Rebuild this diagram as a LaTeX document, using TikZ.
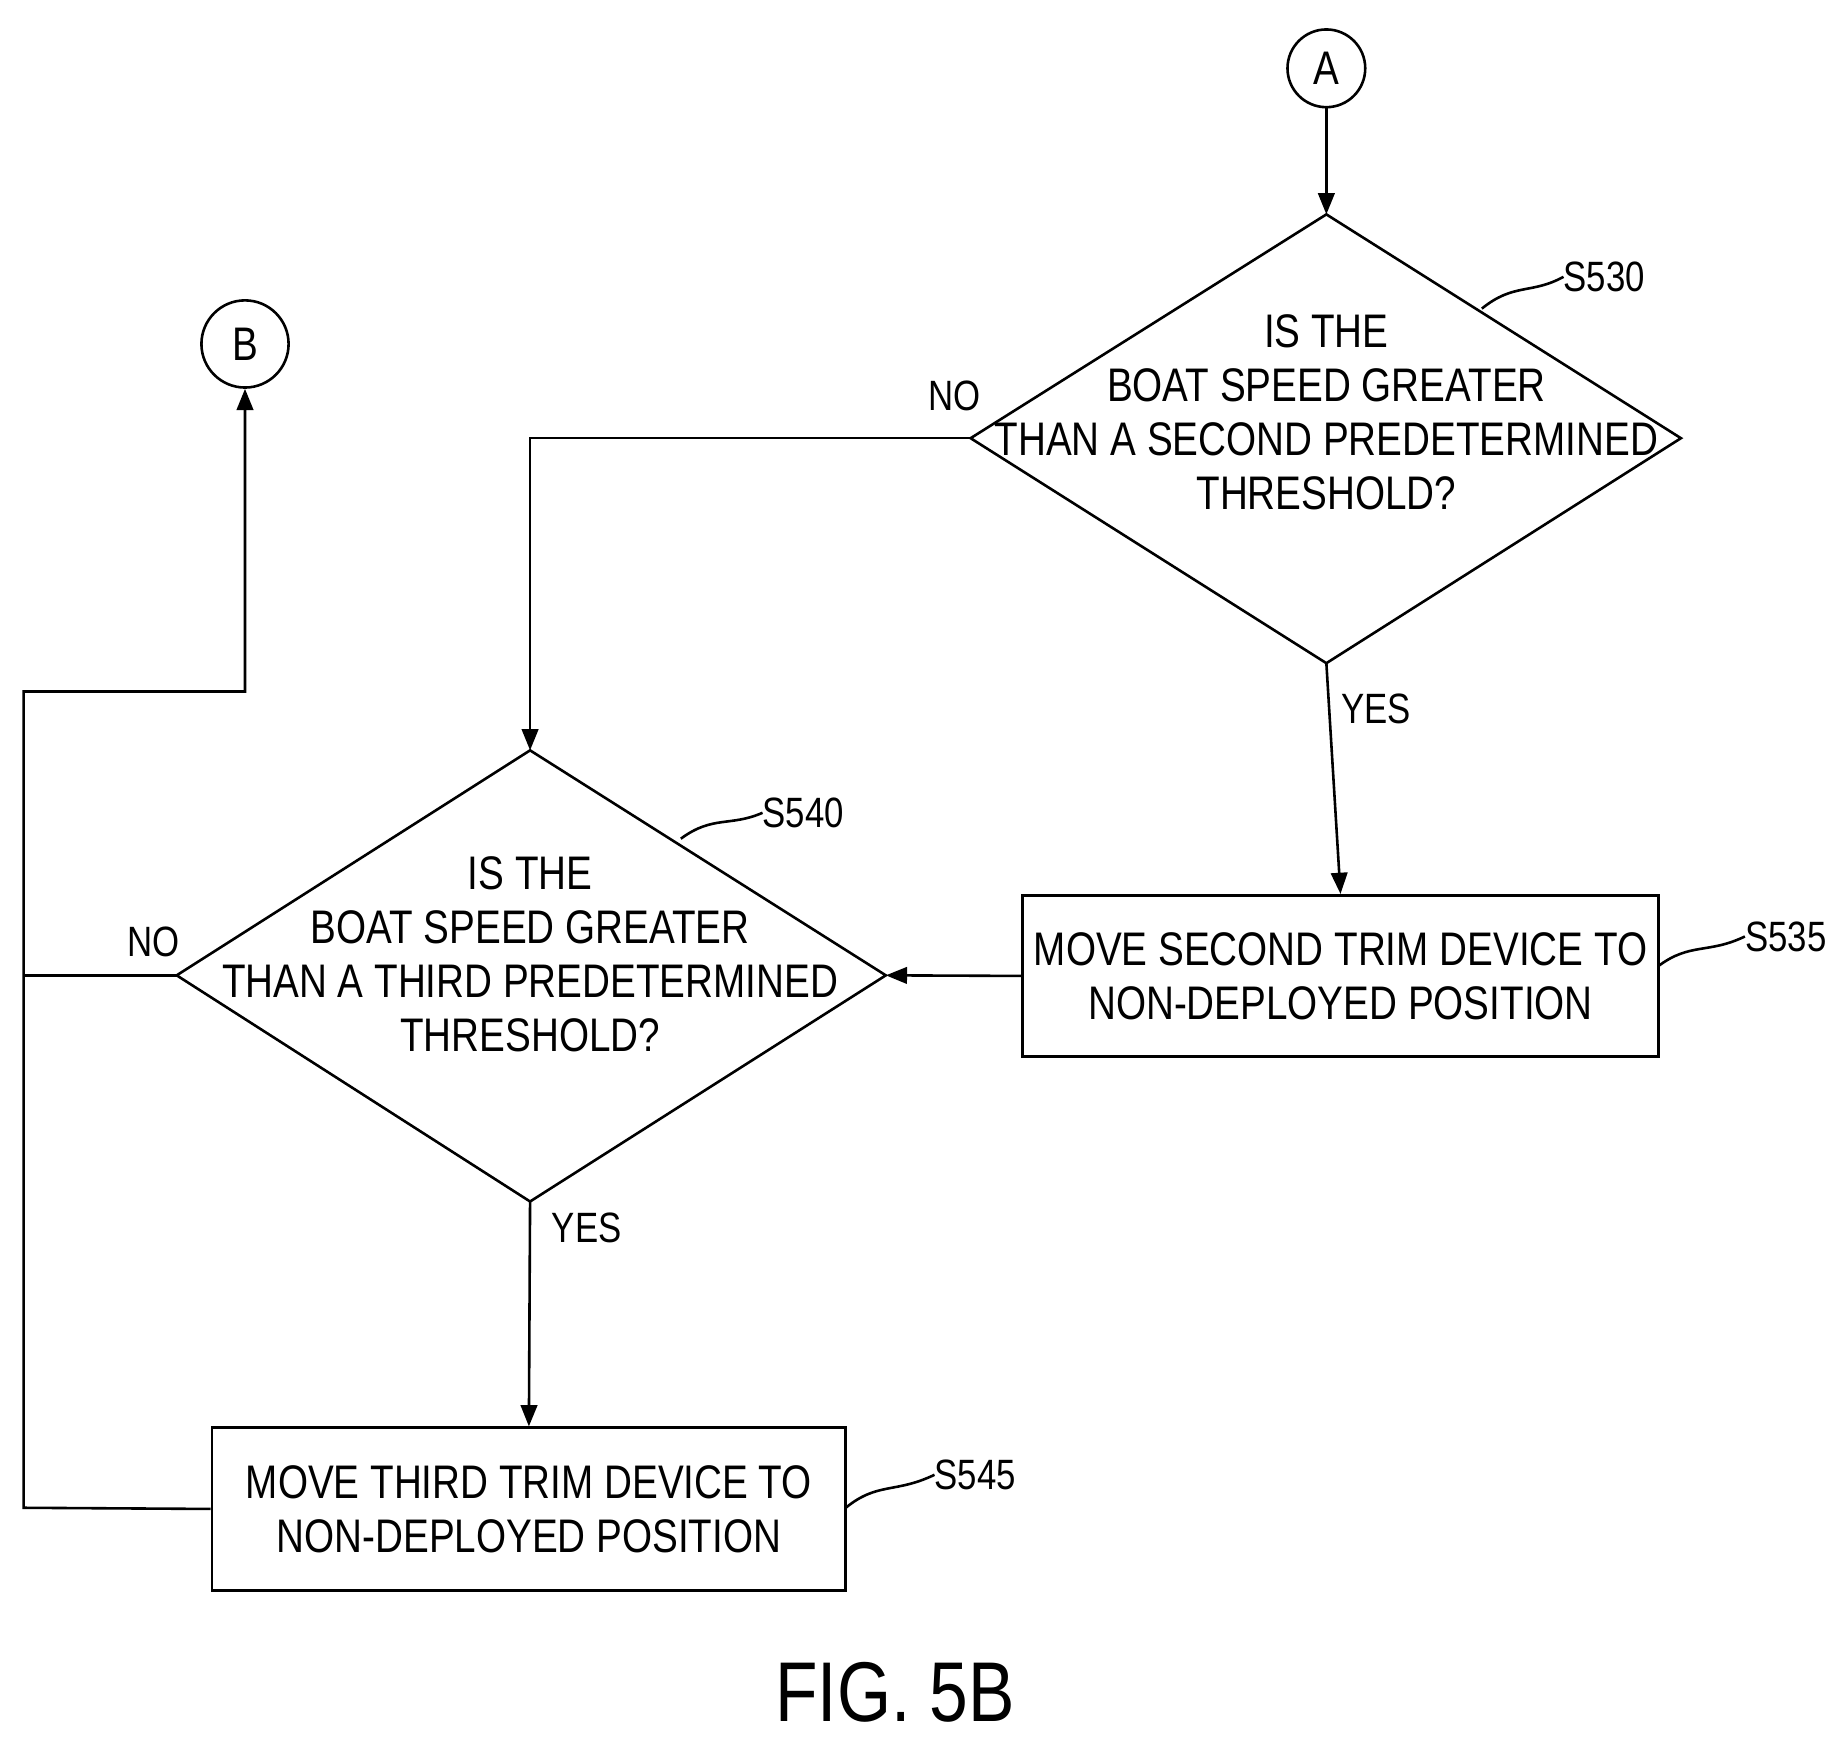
\documentclass[tikz,border=0pt]{standalone}
\usepackage{fontspec}
\setmainfont[FakeStretch=0.82]{Liberation Sans}
\usetikzlibrary{shapes.geometric,arrows.meta}
\begin{document}
\begin{tikzpicture}[x=1pt,y=-1pt,
  every node/.style={font=\fontsize{40}{46}\selectfont, inner sep=0pt},
  ln/.style={line width=2.2pt},
  arr/.style={ln,-{Triangle[length=18pt,width=14pt]}},
  dia/.style={draw,ln,diamond,minimum width=0pt},
  box/.style={draw,ln,align=center},
  circ/.style={draw,ln,circle},
  lbl/.style={font=\fontsize{36}{40}\selectfont}]
\useasboundingbox (0,0) rectangle (1568,1488);
% connectors (circles)
\node[circ,minimum size=66pt] (A) at (1126,58) {A};
\node[circ,minimum size=74pt] (B) at (208,292) {B};
% diamond S530
\coordinate (d1t) at (1126,182); \coordinate (d1b) at (1126,563);
\coordinate (d1l) at (824,372); \coordinate (d1r) at (1427,372);
\draw[ln] (d1t)--(d1r)--(d1b)--(d1l)--cycle;
\node[align=center] (t1) at (1126,350) {IS THE\\BOAT SPEED GREATER\\THAN A SECOND PREDETERMINED\\THRESHOLD?};
% diamond S540
\coordinate (d2t) at (450,637); \coordinate (d2b) at (450,1020);
\coordinate (d2l) at (150,828); \coordinate (d2r) at (752,828);
\draw[ln] (d2t)--(d2r)--(d2b)--(d2l)--cycle;
\node[align=center] (t2) at (450,810) {IS THE\\BOAT SPEED GREATER\\THAN A THIRD PREDETERMINED\\THRESHOLD?};
% boxes
\node[box,minimum width=540pt,minimum height=137pt] (b535) at (1138,828.5) {MOVE SECOND TRIM DEVICE TO\\NON-DEPLOYED POSITION};
\node[box,minimum width=538pt,minimum height=138pt] (b545) at (449,1281) {MOVE THIRD TRIM DEVICE TO\\NON-DEPLOYED POSITION};
% arrows
\draw[arr] (A) -- (d1t);
\draw[arr] (d1l) -- (450,372) -- (d2t);
\draw[arr] (d1b) -- (b535.north);
\draw[arr] (b535.west) -- (d2r);
\draw[arr] (d2b) -- (b545.north);
\draw[ln] (d2l) -- (20,828);
\draw[arr] (b545.west) -- (20,1280) -- (20,587) -- (208,587) -- (B.south);
% labels
\node[lbl] (no1) at (810,336) {NO};
\node[lbl] (yes1) at (1168,602) {YES};
\node[lbl] (no2) at (130,800) {NO};
\node[lbl] (yes2) at (498,1042) {YES};
\node[lbl] (s530) at (1362,235) {S530};
\node[lbl] (s540) at (682,690) {S540};
\node[lbl] (s535) at (1516,795) {S535};
\node[lbl] (s545) at (828,1252) {S545};
\draw[ln] (1258,262) .. controls (1285,240) and (1300,250) .. (s530.west);
\draw[ln] (578,712) .. controls (605,692) and (620,702) .. (s540.west);
\draw[ln] (1408,820) .. controls (1435,800) and (1450,810) .. (s535.west);
\draw[ln] (718,1280) .. controls (745,1258) and (760,1268) .. (s545.west);
\node[font=\fontsize{72}{80}\selectfont] (fig) at (760,1437) {FIG. 5B};
\end{tikzpicture}
\end{document}
